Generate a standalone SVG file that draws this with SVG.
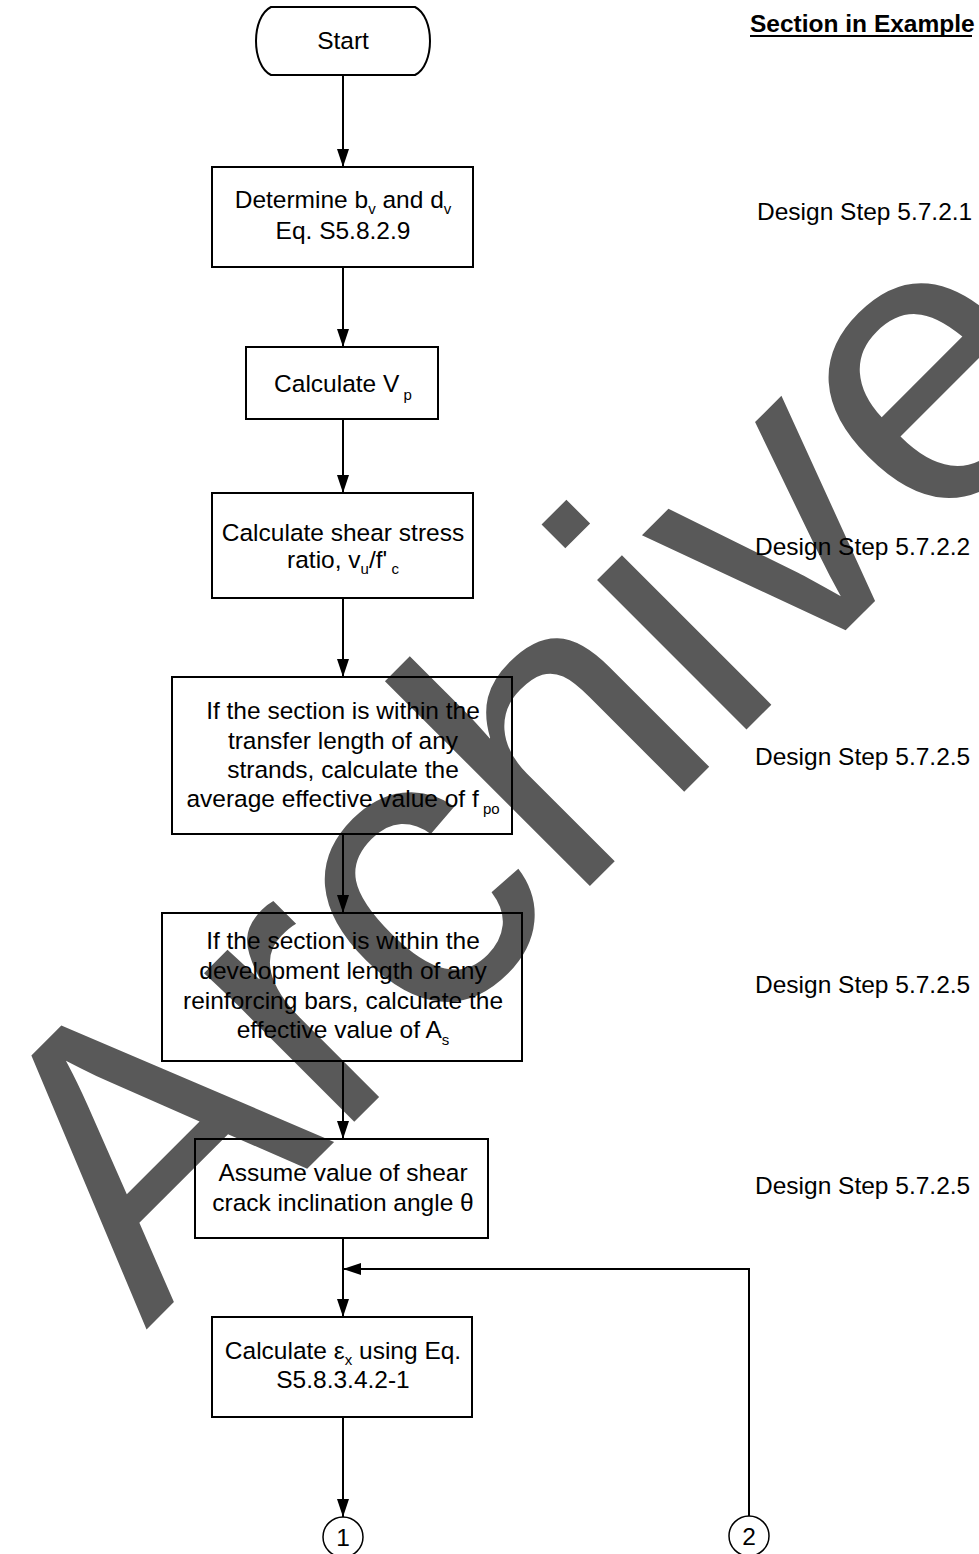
<svg xmlns="http://www.w3.org/2000/svg" width="979" height="1554" viewBox="0 0 979 1554">
<style>
.box{fill:none;stroke:#000;stroke-width:2}
.t{font-family:"Liberation Sans",Arial,sans-serif;font-size:24.5px;fill:#000;text-anchor:middle}
.lbl{font-family:"Liberation Sans",Arial,sans-serif;font-size:24.5px;fill:#000}
.sub{font-size:15px}
.edge{fill:none;stroke:#000;stroke-width:2}
.wm{font-family:"Liberation Sans",Arial,sans-serif;font-size:400px;fill:#595959}
</style>
<defs>
<marker id="arr" viewBox="0 0 18 12" refX="18" refY="6" markerWidth="18" markerHeight="12" markerUnits="userSpaceOnUse" orient="auto">
<path d="M0,0 L18,6 L0,12 Z" fill="#000"/>
</marker>
</defs>
<rect width="979" height="1554" fill="#fff"/>
<g id="watermark">
<text class="wm" x="146" y="1330" transform="rotate(-45 146 1330)">Archived</text>
</g>
<g id="connectors">
<line class="edge" x1="343" y1="75" x2="343" y2="167" marker-end="url(#arr)"/>
<line class="edge" x1="343" y1="267" x2="343" y2="347" marker-end="url(#arr)"/>
<line class="edge" x1="343" y1="419" x2="343" y2="493" marker-end="url(#arr)"/>
<line class="edge" x1="343" y1="598" x2="343" y2="677" marker-end="url(#arr)"/>
<line class="edge" x1="343" y1="834" x2="343" y2="913" marker-end="url(#arr)"/>
<line class="edge" x1="343" y1="1061" x2="343" y2="1139" marker-end="url(#arr)"/>
<line class="edge" x1="343" y1="1238" x2="343" y2="1317" marker-end="url(#arr)"/>
<line class="edge" x1="343" y1="1417" x2="343" y2="1517" marker-end="url(#arr)"/>
<polyline class="edge" points="749,1516 749,1269 343,1269" marker-end="url(#arr)"/>
</g>
<g id="start">
<path class="box" d="M271,7 L415,7 C435,17 435,65 415,75 L271,75 C251,65 251,17 271,7 Z"/>
<text class="t" x="343" y="49">Start</text>
</g>
<g id="n1">
<rect class="box" x="212" y="167" width="261" height="100"/>
<text class="t" x="343" y="208">Determine b<tspan class="sub" dy="6">v</tspan><tspan dy="-6"> and d</tspan><tspan class="sub" dy="6">v</tspan></text>
<text class="t" x="343" y="239">Eq. S5.8.2.9</text>
</g>
<g id="n2">
<rect class="box" x="246" y="347" width="192" height="72"/>
<text class="t" x="343" y="392">Calculate V<tspan class="sub" dy="8"> p</tspan></text>
</g>
<g id="n3">
<rect class="box" x="212" y="493" width="261" height="105"/>
<text class="t" x="343" y="541">Calculate shear stress</text>
<text class="t" x="343" y="568">ratio, v<tspan class="sub" dy="6">u</tspan><tspan dy="-6">/f'</tspan><tspan class="sub" dy="6"> c</tspan></text>
</g>
<g id="n4">
<rect class="box" x="172" y="677" width="340" height="157"/>
<text class="t" x="343" y="719">If the section is within the</text>
<text class="t" x="343" y="749">transfer length of any</text>
<text class="t" x="343" y="778">strands, calculate the</text>
<text class="t" x="343" y="807">average effective value of f<tspan class="sub" dy="7"> po</tspan></text>
</g>
<g id="n5">
<rect class="box" x="162" y="913" width="360" height="148"/>
<text class="t" x="343" y="949">If the section is within the</text>
<text class="t" x="343" y="979">development length of any</text>
<text class="t" x="343" y="1009">reinforcing bars, calculate the</text>
<text class="t" x="343" y="1038">effective value of A<tspan class="sub" dy="7">s</tspan></text>
</g>
<g id="n6">
<rect class="box" x="195" y="1139" width="293" height="99"/>
<text class="t" x="343" y="1181">Assume value of shear</text>
<text class="t" x="343" y="1211">crack inclination angle θ</text>
</g>
<g id="n7">
<rect class="box" x="212" y="1317" width="260" height="100"/>
<text class="t" x="343" y="1359">Calculate ε<tspan class="sub" dy="6">x</tspan><tspan dy="-6"> using Eq.</tspan></text>
<text class="t" x="343" y="1388">S5.8.3.4.2-1</text>
</g>
<g id="c1">
<circle cx="343" cy="1537" r="20" fill="none" stroke="#000" stroke-width="1.5"/>
<text class="t" x="343" y="1546">1</text>
</g>
<g id="c2">
<circle cx="749" cy="1536" r="20" fill="none" stroke="#000" stroke-width="1.5"/>
<text class="t" x="749" y="1545">2</text>
</g>
<g id="labels">
<text class="lbl" x="750" y="32" font-weight="bold">Section in Example</text>
<line x1="750" y1="36" x2="972" y2="36" stroke="#000" stroke-width="2"/>
<text class="lbl" x="757" y="220">Design Step 5.7.2.1</text>
<text class="lbl" x="755" y="555">Design Step 5.7.2.2</text>
<text class="lbl" x="755" y="765">Design Step 5.7.2.5</text>
<text class="lbl" x="755" y="993">Design Step 5.7.2.5</text>
<text class="lbl" x="755" y="1194">Design Step 5.7.2.5</text>
</g>
</svg>
